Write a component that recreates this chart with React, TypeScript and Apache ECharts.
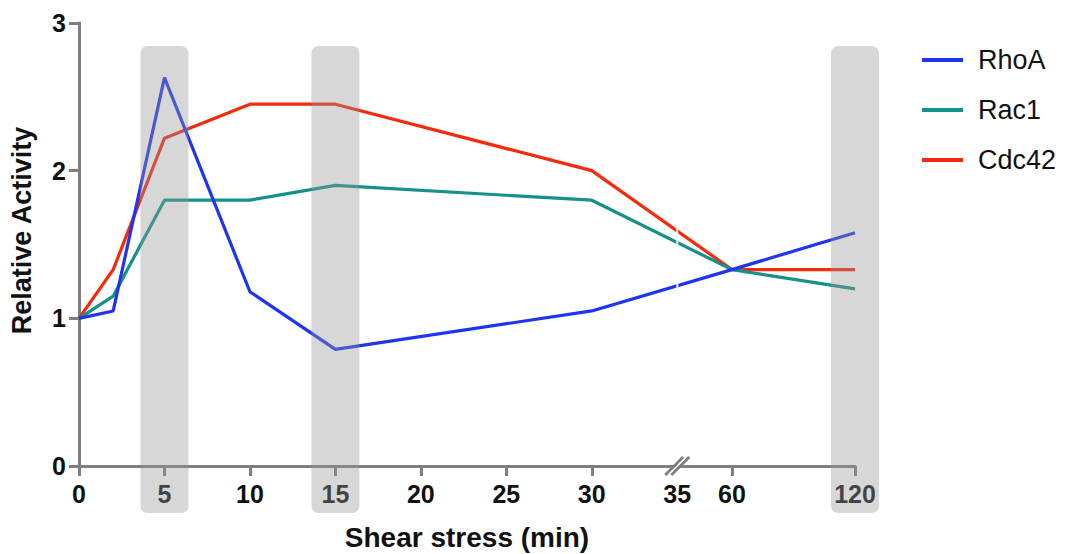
import React, { useEffect, useRef } from "react";
import * as echarts from "echarts";

// ---- data ----
const minutes = [0, 2, 5, 10, 15, 30, 60, 120];
const rhoA = [1.0, 1.05, 2.63, 1.18, 0.79, 1.05, 1.33, 1.58];
const rac1 = [1.0, 1.15, 1.8, 1.8, 1.9, 1.8, 1.33, 1.2];
const cdc42 = [1.0, 1.33, 2.22, 2.45, 2.45, 2.0, 1.33, 1.33];
const seriesNames = ["RhoA", "Rac1", "Cdc42"];
const seriesValues = [rhoA, rac1, cdc42];
const seriesColors = ["#1e34f0", "#14918b", "#f5290c"];
const xTickMinutes = [0, 5, 10, 15, 20, 25, 30, 60, 120];
const xLabelMinutes = [0, 5, 10, 15, 20, 25, 30, 35, 60, 120];
const highlightMinutes = [5, 15, 120];
const breakMinute = 35;

// broken axis: linear up to 35 min, compressed afterwards
const toAxis = (m: number) => (m <= 35 ? m : 35.2 + (m - 35) * 0.12);

const FONT = "'Liberation Sans', Arial, Helvetica, sans-serif";
const GRAY = "#7f7f7f";
const INK = "#111111";

export default function App() {
  const ref = useRef<HTMLDivElement>(null);

  useEffect(() => {
    if (!ref.current) return;
    const chart = echarts.init(ref.current, null, { renderer: "svg" });

    const labelFor = (v: number) => {
      let best = xLabelMinutes[0];
      let d = Infinity;
      xLabelMinutes.forEach((m) => {
        const dd = Math.abs(toAxis(m) - v);
        if (dd < d) {
          d = dd;
          best = m;
        }
      });
      return String(best);
    };

    chart.setOption({
      animation: false,
      backgroundColor: "#ffffff",
      grid: {
        left: 79,
        right: 211,
        top: 23,
        bottom: 88,
        containLabel: false,
        outerBoundsMode: "none",
      },
      legend: {
        orient: "vertical",
        left: 917,
        top: 40,
        icon: "rect",
        itemWidth: 41,
        itemHeight: 4,
        itemGap: 20,
        data: seriesNames,
        textStyle: {
          fontSize: 27,
          lineHeight: 30,
          color: INK,
          fontFamily: FONT,
          padding: [0, 0, 0, 10],
        },
      },
      xAxis: {
        type: "value",
        min: 0,
        max: toAxis(120),
        splitLine: { show: false },
        axisLine: { show: true, lineStyle: { color: GRAY, width: 3 } },
        axisTick: {
          show: true,
          customValues: xTickMinutes.map(toAxis),
          length: 10,
          lineStyle: { color: GRAY, width: 3 },
        },
        axisLabel: {
          customValues: xLabelMinutes.map(toAxis),
          formatter: (v: number) => labelFor(v),
          fontSize: 25,
          fontWeight: "bold",
          color: INK,
          margin: 15,
          fontFamily: FONT,
        },
        name: "Shear stress (min)",
        nameLocation: "middle",
        nameGap: 57,
        nameTextStyle: { fontSize: 28, fontWeight: "bold", color: INK, fontFamily: FONT },
      },
      yAxis: {
        type: "value",
        min: 0,
        max: 3,
        interval: 1,
        splitLine: { show: false },
        axisLine: { show: true, lineStyle: { color: GRAY, width: 3 } },
        axisTick: { show: true, length: 10, lineStyle: { color: GRAY, width: 3 } },
        axisLabel: {
          fontSize: 25,
          fontWeight: "bold",
          color: INK,
          margin: 13,
          fontFamily: FONT,
        },
        name: "Relative Activity",
        nameLocation: "middle",
        nameGap: 44,
        nameTextStyle: {
          fontSize: 27,
          fontWeight: "bold",
          color: INK,
          fontFamily: FONT,
          padding: [0, 0, 0, 28],
        },
      },
      series: seriesNames.map((name, i) => ({
        name,
        type: "line",
        symbol: "none",
        z: 10 - i,
        color: seriesColors[i],
        itemStyle: { color: seriesColors[i] },
        lineStyle: { color: seriesColors[i], width: 3.2 },
        data: minutes.map((m, j) => [toAxis(m), seriesValues[i][j]]),
      })),
    });

    const axisY = chart.convertToPixel({ yAxisIndex: 0 }, 0) as number;
    const topY = chart.convertToPixel({ yAxisIndex: 0 }, 2.845) as number;
    const plotTop = chart.convertToPixel({ yAxisIndex: 0 }, 3) as number;
    const bx = chart.convertToPixel({ xAxisIndex: 0 }, toAxis(breakMinute)) as number;

    const graphics: any[] = [];
    // white cut through the lines at the axis break
    graphics.push({
      type: "line",
      z: 50,
      silent: true,
      shape: { x1: bx - 0.5, y1: plotTop, x2: bx + 0.5, y2: axisY - 12 },
      style: { stroke: "#ffffff", lineWidth: 2 },
    });
    // break marker on the x axis
    [-3, 3].forEach((dx) => {
      graphics.push({
        type: "line",
        z: 60,
        silent: true,
        shape: { x1: bx - 9 + dx, y1: axisY + 9, x2: bx + 9 + dx, y2: axisY - 9 },
        style: { stroke: GRAY, lineWidth: 3 },
      });
    });
    graphics.push({
      type: "line",
      z: 61,
      silent: true,
      shape: { x1: bx - 8, y1: axisY + 8, x2: bx + 8, y2: axisY - 8 },
      style: { stroke: "#ffffff", lineWidth: 1.2 },
    });
    // translucent highlight bands
    highlightMinutes.forEach((m) => {
      const cx = chart.convertToPixel({ xAxisIndex: 0 }, toAxis(m)) as number;
      graphics.push({
        type: "rect",
        z: 100,
        silent: true,
        shape: { x: cx - 24, y: topY, width: 48, height: axisY + 47 - topY, r: 7 },
        style: { fill: "rgba(150,150,150,0.38)" },
      });
    });
    chart.setOption({ graphic: graphics });

    return () => chart.dispose();
  }, []);

  return (
    <div
      ref={ref}
      style={{ position: "absolute", left: 0, top: 0, width: 1066, height: 554 }}
    />
  );
}
